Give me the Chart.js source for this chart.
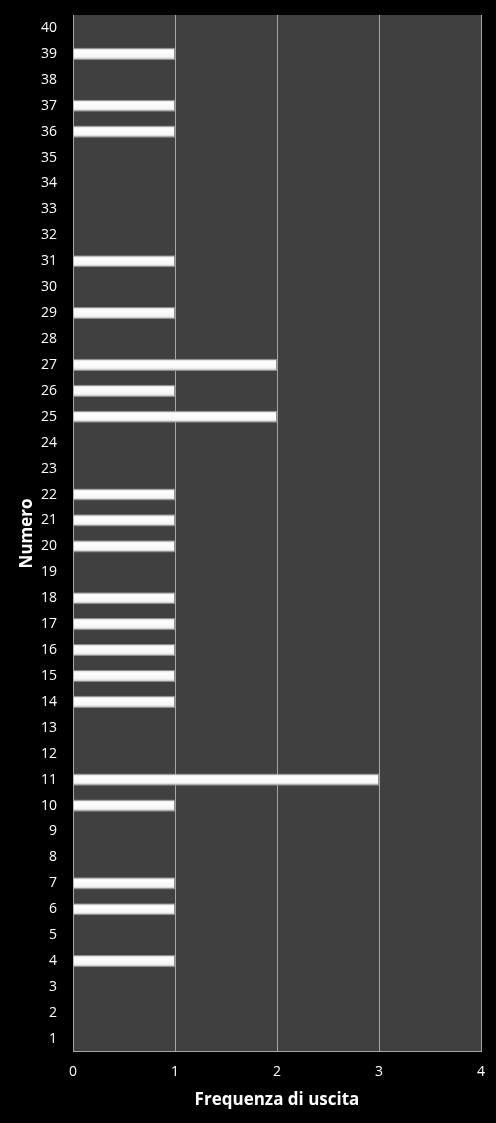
<!DOCTYPE html>
<html lang="it">
<head>
    <meta charset="utf-8">
    <title>Frequenza di uscita</title>
    <style>
        body{margin:0;background:#000;}
        .canvas-class{width:496px;height:1123px;}
    </style>
    <script src="https://cdn.jsdelivr.net/npm/chart.js@4/dist/chart.umd.min.js"></script>
</head>
<body>
    <div class="canvas-class"><canvas id="freqChart"></canvas></div>
    <script>
        const numeri = [];
        for (let i = 1; i <= 40; i++) numeri.push(String(i));
        // frequenza per i numeri 1..40
        const frequenze = [
            0, 0, 0, 1, 0, 1, 1, 0, 0, 1,
            3, 0, 0, 1, 1, 1, 1, 1, 0, 1,
            1, 1, 0, 0, 2, 1, 2, 0, 1, 0,
            1, 0, 0, 0, 0, 1, 1, 0, 1, 0
        ];
        const xTicks = [0, 1, 2, 3, 4];

        const plotBg = {
            id: 'plotBg',
            beforeDraw(chart) {
                const a = chart.chartArea, ctx = chart.ctx;
                ctx.save();
                ctx.fillStyle = '#000';
                ctx.fillRect(0, 0, chart.width, chart.height);
                ctx.fillStyle = '#404040';
                ctx.fillRect(a.left, a.top, a.right - a.left, a.bottom - a.top);
                ctx.restore();
            }
        };

        function barFill(context) {
            const chart = context.chart;
            if (!chart.chartArea || !chart.scales.y) return '#f2f2f2';
            const y = chart.scales.y.getPixelForValue(context.dataIndex);
            const g = chart.ctx.createLinearGradient(0, y - 6, 0, y + 6);
            g.addColorStop(0, '#d0d0d0');
            g.addColorStop(0.25, '#ffffff');
            g.addColorStop(0.75, '#f6f6f6');
            g.addColorStop(1, '#b0b0b0');
            return g;
        }

        new Chart(document.getElementById('freqChart').getContext('2d'), {
            type: 'bar',
            data: {
                labels: numeri,
                datasets: [{
                    label: 'Frequenza',
                    data: frequenze,
                    backgroundColor: barFill,
                    borderColor: '#8c8c8c',
                    borderWidth: 1,
                    borderSkipped: 'start',
                    barPercentage: 0.9,
                    categoryPercentage: 0.52
                }]
            },
            options: {
                indexAxis: 'y',
                responsive: true,
                maintainAspectRatio: false,
                animation: false,
                layout: {padding: {left: 0, right: 15, top: 15, bottom: 9}},
                plugins: {legend: {display: false}, tooltip: {enabled: false}},
                scales: {
                    x: {
                        min: 0, max: 4,
                        afterBuildTicks: s => { s.ticks = xTicks.map(v => ({value: v})); },
                        afterFit: s => { s.paddingLeft = 0; s.paddingRight = 0; },
                        grid: {color: '#a6a6a6', lineWidth: 1, drawTicks: false},
                        border: {color: '#a6a6a6'},
                        ticks: {color: '#fff', padding: 12, font: {family: 'Open Sans', size: 14}},
                        title: {display: true, text: 'Frequenza di uscita', color: '#fff',
                            font: {family: 'Open Sans', size: 17, weight: 'bold'}, padding: {top: -3}}
                    },
                    y: {
                        reverse: true,
                        afterFit: s => { s.width = 73; s.paddingTop = 0; s.paddingBottom = 0; },
                        grid: {display: false, drawTicks: false},
                        border: {color: '#a6a6a6'},
                        ticks: {color: '#fff', padding: 16, autoSkip: false, font: {family: 'Open Sans', size: 14}},
                        title: {display: true, text: 'Numero', color: '#fff',
                            font: {family: 'Open Sans', size: 17, weight: 'bold'}, padding: {top: 17, bottom: 0}}
                    }
                }
            },
            plugins: [plotBg]
        });
    </script>
</body>
</html>
